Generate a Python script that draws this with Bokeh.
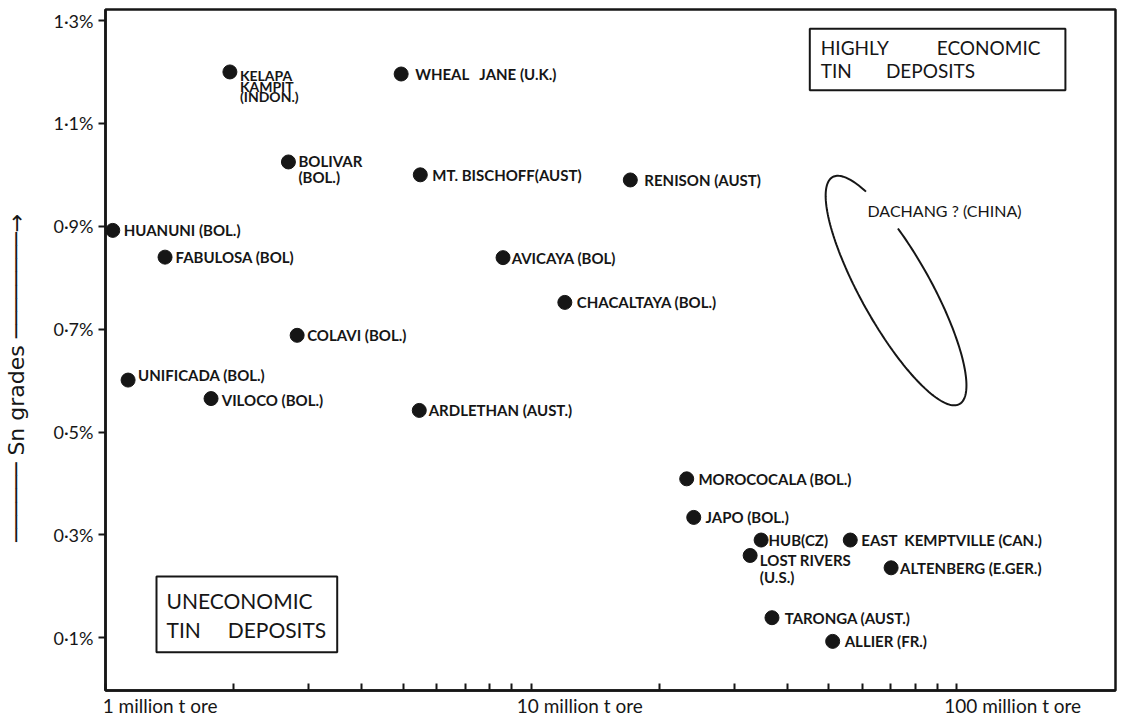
import numpy as np
from bokeh.plotting import figure
from bokeh.models import Range1d, FixedTicker, Label, ColumnDataSource
from bokeh.core.properties import value
from bokeh.embed import file_html
from bokeh.resources import INLINE

# ------------------------------------------------------------------ data
DEPOSITS = ["KELAPA\nKAMPIT\n(INDON.)", "WHEAL   JANE (U.K.)", "BOLIVAR\n(BOL.)",
            "MT. BISCHOFF(AUST)", "RENISON (AUST)", "HUANUNI (BOL.)",
            "FABULOSA (BOL)", "AVICAYA (BOL)", "CHACALTAYA (BOL.)",
            "COLAVI (BOL.)", "UNIFICADA (BOL.)", "VILOCO (BOL.)",
            "ARDLETHAN (AUST.)", "MOROCOCALA (BOL.)", "JAPO (BOL.)", "HUB(CZ)",
            "LOST RIVERS\n(U.S.)", "EAST  KEMPTVILLE (CAN.)",
            "ALTENBERG (E.GER.)", "TARONGA (AUST.)", "ALLIER (FR.)"]
ORE_MT = [1.96, 4.95, 2.69, 5.49, 17.1, 1.04, 1.38, 8.59, 12.0, 2.82, 1.13,
          1.77, 5.46, 23.2, 24.1, 34.7, 32.7, 56.2, 70.1, 36.8, 51.1]
SN_GRADE = [1.20, 1.196, 1.025, 1.00, 0.99, 0.892, 0.84, 0.839, 0.752, 0.688,
            0.601, 0.565, 0.542, 0.409, 0.334, 0.29, 0.26, 0.29, 0.236, 0.139,
            0.093]

X_TICKS = [1, 10, 100]
X_TICK_LABELS = ["1 million t ore", "10 million t ore", "100 million t ore"]
X_MINOR = [2, 3, 4, 5, 6, 7, 8, 9, 20, 30, 40, 50, 60, 70, 80, 90]
Y_TICKS = [0.1, 0.3, 0.5, 0.7, 0.9, 1.1, 1.3]
Y_TICK_LABELS = ["0·1%", "0·3%", "0·5%", "0·7%", "0·9%", "1·1%", "1·3%"]

DACHANG_LABEL = "DACHANG ? (CHINA)"
DACHANG_CENTER = (72.0, 0.775)          # ore (Mt), grade (%)
HIGH_BOX_LINES = ["HIGHLY", "ECONOMIC", "TIN", "DEPOSITS"]
LOW_BOX_LINES = ["UNECONOMIC", "TIN", "DEPOSITS"]
Y_TITLE_WORDS = ["Sn", "grades"]

# ------------------------------------------------------------------ styles
NB = "\u00a0"
# label offsets (px) from the dot, y positive downward
LABEL_DX = [10, 14, 10, 12, 14, 11, 10.5, 8.6, 12, 10, 10, 10.7, 9.4, 11.7,
            11.7, 7.4, 9.7, 11, 9, 12.7, 12]
LABEL_DY = [-5, 0, -10, 0, 0, 0, 0, 0, 0, 0, -5, 1, 0, 0, 0, 0, -4, 0, 0, 0, 0]
# multi-line labels: index -> (font size px, line height)
MULTI_STYLE = {0: ("14px", 0.63), 2: ("15px", 0.87), 16: ("15px", 0.94)}
X_LABEL_PAD = [21, 20, 23]              # nbsp padding -> left aligned look

FONT = "Lato"
INK = "#161616"
X_RANGE = (1.0, 236.0)
Y_RANGE = (-0.0025, 1.3214)
FRAME_LEFT, FRAME_TOP, FRAME_W, FRAME_H = 104, 9, 1010, 681

p = figure(x_axis_type="log", frame_width=FRAME_W, frame_height=FRAME_H,
           min_border_left=FRAME_LEFT, min_border_top=FRAME_TOP,
           min_border_right=4, min_border_bottom=20,
           x_range=Range1d(*X_RANGE), y_range=Range1d(*Y_RANGE),
           output_backend="svg", toolbar_location=None,
           background_fill_color="white", border_fill_color="white")
p.grid.visible = False
p.outline_line_color = INK
p.outline_line_width = 2.5


def fx(px):
    lo, hi = np.log10(X_RANGE[0]), np.log10(X_RANGE[1])
    return float(10 ** (lo + (px - FRAME_LEFT) / FRAME_W * (hi - lo)))


def fy(py):
    return float(Y_RANGE[1] - (py - FRAME_TOP) / FRAME_H * (Y_RANGE[1] - Y_RANGE[0]))


PPD = FRAME_W / (np.log10(X_RANGE[1]) - np.log10(X_RANGE[0]))  # px per decade
PPU = FRAME_H / (Y_RANGE[1] - Y_RANGE[0])                         # px per %

# x axis
xa = p.xaxis[0]
xa.ticker = FixedTicker(ticks=X_TICKS, minor_ticks=X_MINOR)
xa.major_label_overrides = {t: NB * n + lab
                            for t, lab, n in zip(X_TICKS, X_TICK_LABELS, X_LABEL_PAD)}
xa.major_label_text_font = FONT
xa.major_label_text_font_size = "19px"
xa.major_label_text_color = INK
xa.major_label_standoff = 3
xa.axis_line_width = 2.5
xa.axis_line_color = INK
xa.major_tick_in, xa.major_tick_out = 7, 0
xa.minor_tick_in, xa.minor_tick_out = 7, 0
xa.major_tick_line_width = 2
xa.minor_tick_line_width = 2
xa.major_tick_line_color = INK
xa.minor_tick_line_color = INK

# y axis
ya = p.yaxis[0]
ya.ticker = FixedTicker(ticks=Y_TICKS)
ya.major_label_overrides = dict(zip(Y_TICKS, Y_TICK_LABELS))
ya.axis_line_width = 2.5
ya.axis_line_color = INK
ya.major_tick_in, ya.major_tick_out = 0, 7
ya.major_tick_line_width = 2
ya.major_tick_line_color = INK
ya.minor_tick_line_color = None
ya.major_label_standoff = 5
ya.major_label_text_font = FONT
ya.major_label_text_font_size = "18px"
ya.major_label_text_color = INK
ya.axis_label = ("─" * 6 + NB + Y_TITLE_WORDS[0] + NB + Y_TITLE_WORDS[1]
                 + NB + "─" * 8 + "→" + NB * 8)
ya.axis_label_text_font = "DejaVu Sans"
ya.axis_label_text_font_style = "normal"
ya.axis_label_text_font_size = "22px"
ya.axis_label_text_color = INK
ya.axis_label_standoff = 22

# points
src = ColumnDataSource(dict(x=ORE_MT, y=SN_GRADE, name=DEPOSITS,
                            dx=LABEL_DX, dy=LABEL_DY))
p.scatter("x", "y", source=src, size=14, color=INK)

single = [i for i, n in enumerate(DEPOSITS) if "\n" not in n]
ssrc = ColumnDataSource({k: [v[i] for i in single] for k, v in src.data.items()})
ssrc.data["name"] = [s.replace("  ", NB * 2) for s in ssrc.data["name"]]
p.text("x", "y", text="name", source=ssrc, x_offset="dx", y_offset="dy",
       text_font=value(FONT), text_font_style="bold", text_font_size="15px",
       text_color=INK, text_align="left", text_baseline="middle")
for i, (fs, lh) in MULTI_STYLE.items():
    msrc = ColumnDataSource({k: [v[i]] for k, v in src.data.items()})
    p.text("x", "y", text="name", source=msrc, x_offset="dx", y_offset="dy",
           text_font=value(FONT), text_font_style="bold",
           text_font_size=fs, text_line_height=lh,
           text_color=INK, text_align="left", text_baseline="top")

# Dachang ellipse (open at the top where the label sits)
a_px, b_px, ang = 130.0, 35.0, np.deg2rad(60.8)
t = np.deg2rad(np.linspace(245.8, 579.0, 200))
u = np.array([np.cos(ang), np.sin(ang)])
v = np.array([-np.sin(ang), np.cos(ang)])
sx = a_px * np.cos(t) * u[0] + b_px * np.sin(t) * v[0]
sy = a_px * np.cos(t) * u[1] + b_px * np.sin(t) * v[1]
ex = 10 ** (np.log10(DACHANG_CENTER[0]) + sx / PPD)
ey = DACHANG_CENTER[1] - sy / PPU
p.line(ex, ey, line_color=INK, line_width=2)
p.add_layout(Label(x=fx(866), y=fy(210), text=DACHANG_LABEL,
                   text_font=FONT, text_font_size="16px",
                   text_color=INK, text_align="left", text_baseline="middle"))

# boxed region labels
high_text = (HIGH_BOX_LINES[0] + NB * 10 + HIGH_BOX_LINES[1] + "\n"
             + HIGH_BOX_LINES[2] + NB * 7 + HIGH_BOX_LINES[3])
p.add_layout(Label(x=fx(808.3), y=fy(28.3), text=high_text,
                   text_font=FONT, text_font_size="19px",
                   text_color=INK, text_align="left", text_baseline="top",
                   text_line_height=1.02,
                   padding=dict(left=11, right=25, top=7, bottom=8),
                   border_line_color=INK, border_line_width=2,
                   background_fill_color="white"))
low_text = (LOW_BOX_LINES[0] + "\n" + LOW_BOX_LINES[1] + NB * 5 + LOW_BOX_LINES[2])
p.add_layout(Label(x=fx(155), y=fy(576), text=low_text,
                   text_font=FONT, text_font_size="21px",
                   text_color=INK, text_align="left", text_baseline="top",
                   text_line_height=1.19,
                   padding=dict(left=10, right=11, top=11, bottom=10),
                   border_line_color=INK, border_line_width=2,
                   background_fill_color="white"))

open("out.html", "w").write(file_html(p, INLINE))
